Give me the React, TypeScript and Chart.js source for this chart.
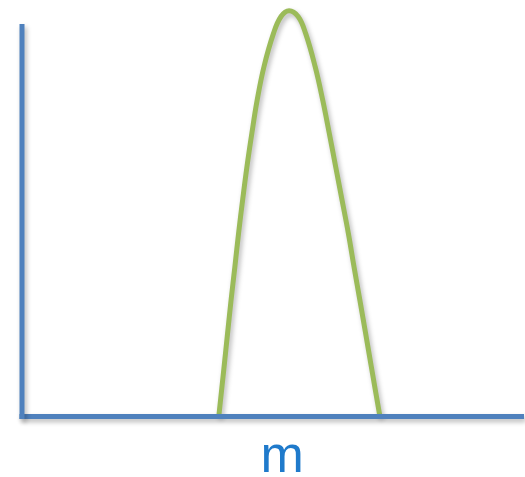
import React, { useEffect, useRef } from "react";
import { Chart, registerables } from "chart.js";

Chart.register(...registerables);

// Bell-shaped curve, x in arbitrary units (0–100), y in arbitrary units (0–100)
const curveX = [39.2, 40.25, 40.95, 41.65, 42.4, 43.15, 43.95, 44.8, 45.8, 46.85, 48.2, 50.1, 51.6, 53.2, 55.0, 56.5, 58.4, 59.9, 61.2, 62.5, 63.75, 65.0, 66.15, 67.3, 68.45, 69.6, 71.3];
const curveY = [0, 12.0, 20.2, 28.3, 36.3, 44.6, 52.6, 60.6, 68.9, 76.9, 85.0, 93.1, 97.2, 98.6, 97.2, 93.1, 85.0, 76.9, 68.9, 60.6, 52.6, 44.6, 36.3, 28.3, 20.2, 12.0, 0];

// Hand-drawn style axes
const xAxisX = [-0.5, 100];
const xAxisY = [0, 0];
const yAxisX = [0, 0];
const yAxisY = [-0.6, 95.4];

const axisLabel = "m";
const axisLabelAt = 51.8;

const shadowPlugin = {
  id: "softShadow",
  beforeDatasetsDraw(chart: any) {
    const ctx = chart.ctx;
    ctx.save();
    ctx.shadowColor = "rgba(0,0,0,0.28)";
    ctx.shadowBlur = 5;
    ctx.shadowOffsetX = 2;
    ctx.shadowOffsetY = 3;
  },
  afterDatasetsDraw(chart: any) {
    chart.ctx.restore();
  },
};

const labelPlugin = {
  id: "axisLetter",
  afterDraw(chart: any) {
    const ctx = chart.ctx;
    const x = chart.scales.x.getPixelForValue(axisLabelAt);
    ctx.save();
    ctx.fillStyle = "#1f7acb";
    ctx.font = '52px "Liberation Sans Narrow", "Liberation Sans", Arial, sans-serif';
    ctx.textAlign = "center";
    ctx.textBaseline = "alphabetic";
    ctx.fillText(axisLabel, x, 472);
    ctx.restore();
  },
};

const toPoints = (xs: number[], ys: number[]) => xs.map((x, i) => ({ x, y: ys[i] }));

export default function App() {
  const ref = useRef<HTMLCanvasElement>(null);

  useEffect(() => {
    if (!ref.current) return;
    const chart = new Chart(ref.current, {
      type: "line",
      data: {
        datasets: [
          {
            data: toPoints(yAxisX, yAxisY),
            borderColor: "#4f81bd",
            borderWidth: 5,
            pointRadius: 0,
            borderCapStyle: "butt",
            clip: false as any,
          },
          {
            data: toPoints(xAxisX, xAxisY),
            borderColor: "#4f81bd",
            borderWidth: 5,
            pointRadius: 0,
            borderCapStyle: "butt",
            clip: false as any,
          },
          {
            data: toPoints(curveX, curveY),
            borderColor: "#9bbb59",
            borderWidth: 5,
            pointRadius: 0,
            tension: 0.4,
            borderCapStyle: "butt",
            borderJoinStyle: "round",
            clip: false as any,
          },
        ],
      },
      options: {
        animation: false,
        responsive: false,
        maintainAspectRatio: false,
        layout: { padding: { left: 22, right: 1, top: 5, bottom: 60.5 } },
        plugins: { legend: { display: false }, tooltip: { enabled: false } },
        scales: {
          x: { type: "linear", min: 0, max: 100, display: false },
          y: { type: "linear", min: 0, max: 100, display: false },
        },
      },
      plugins: [shadowPlugin, labelPlugin],
    });
    return () => chart.destroy();
  }, []);

  return (
    <div style={{ position: "fixed", left: 0, top: 0, width: 525, height: 477, background: "#fff" }}>
      <canvas ref={ref} width={525} height={477} style={{ display: "block" }} />
    </div>
  );
}
